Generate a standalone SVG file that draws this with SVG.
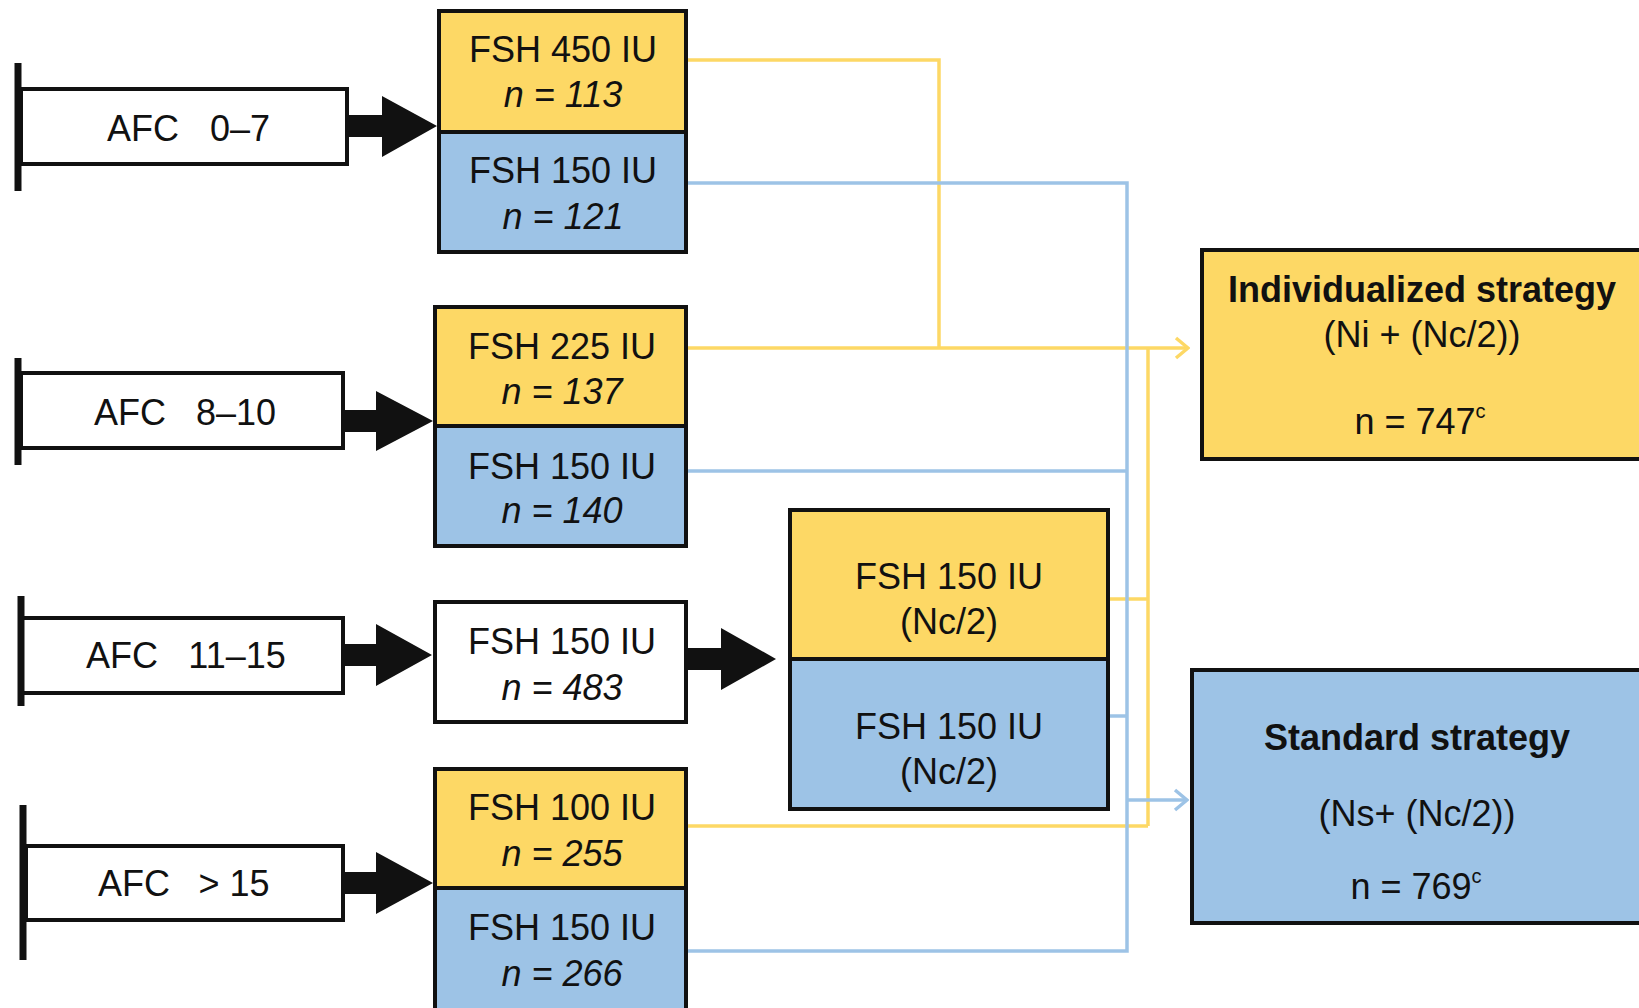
<svg xmlns="http://www.w3.org/2000/svg" width="1639" height="1008" viewBox="0 0 1639 1008">
<defs>
<style>
.t{font-family:"Liberation Sans",Arial,sans-serif;font-size:36px;fill:#111;text-anchor:middle}
.i{font-style:italic}
.b{font-weight:bold}
.box{stroke:#111;stroke-width:4}
.y{fill:#FDD865}
.bl{fill:#9DC3E6}
.w{fill:#fff}
.bar{stroke:#111;stroke-width:7}
.fat{fill:#111}
.ly{fill:none;stroke:#FDD865;stroke-width:3.5}
.lb{fill:none;stroke:#9DC3E6;stroke-width:3.5}
</style>
<marker id="ay" markerWidth="16" markerHeight="24" refX="14" refY="12" orient="auto" markerUnits="userSpaceOnUse"><path d="M2,2 L14,12 L2,22" fill="none" stroke="#FDD865" stroke-width="3.5"/></marker>
<marker id="ab" markerWidth="16" markerHeight="24" refX="14" refY="12" orient="auto" markerUnits="userSpaceOnUse"><path d="M2,2 L14,12 L2,22" fill="none" stroke="#9DC3E6" stroke-width="3.5"/></marker>
</defs>
<rect width="1639" height="1008" fill="#fff"/>

<g id="connectors">
<polyline class="ly" points="686,60 939,60 939,348"/>
<polyline class="ly" points="686,348 1188,348" marker-end="url(#ay)"/>
<polyline class="ly" points="1148,348 1148,826"/>
<polyline class="ly" points="1108,599 1148,599"/>
<polyline class="ly" points="686,826 1148,826"/>
<polyline class="lb" points="686,183 1127,183 1127,951 686,951"/>
<polyline class="lb" points="686,471 1127,471"/>
<polyline class="lb" points="1108,716 1127,716"/>
<polyline class="lb" points="1127,800 1187,800" marker-end="url(#ab)"/>
<polygon class="fat" points="345,115 382,115 382,96 437,126 382,157 382,137 345,137"/>
<polygon class="fat" points="341,410 376,410 376,391 433,421 376,451 376,432 341,432"/>
<polygon class="fat" points="341,644 376,644 376,624 432,655 376,686 376,666 341,666"/>
<polygon class="fat" points="686,648 721,648 721,628 776,659 721,690 721,670 686,670"/>
<polygon class="fat" points="341,872 376,872 376,852 433,883 376,914 376,894 341,894"/>
</g>

<g id="afc1">
<rect class="box w" x="21" y="89" width="326" height="75"/>
<line class="bar" x1="18" y1="63" x2="18" y2="191"/>
<text class="t" x="178" y="141"><tspan x="143">AFC</tspan><tspan x="240">0–7</tspan></text>
</g>
<g id="afc2">
<rect class="box w" x="21" y="373" width="322" height="75"/>
<line class="bar" x1="18" y1="358" x2="18" y2="465"/>
<text class="t" x="178" y="425"><tspan x="130">AFC</tspan><tspan x="236">8–10</tspan></text>
</g>
<g id="afc3">
<rect class="box w" x="21" y="618" width="322" height="75"/>
<line class="bar" x1="21" y1="596" x2="21" y2="706"/>
<text class="t" x="178" y="668"><tspan x="122">AFC</tspan><tspan x="237">11–15</tspan></text>
</g>
<g id="afc4">
<rect class="box w" x="26" y="846" width="317" height="74"/>
<line class="bar" x1="23" y1="805" x2="23" y2="960"/>
<text class="t" x="178" y="896"><tspan x="134">AFC</tspan><tspan x="234">&gt; 15</tspan></text>
</g>

<g id="fsh450">
<rect class="box y" x="439" y="11" width="247" height="121"/>
<text class="t" x="563" y="62">FSH 450 IU</text>
<text class="t i" x="563" y="107">n = 113</text>
</g>
<g id="fsh150a">
<rect class="box bl" x="439" y="132" width="247" height="120"/>
<text class="t" x="563" y="183">FSH 150 IU</text>
<text class="t i" x="563" y="229">n = 121</text>
</g>
<g id="fsh225">
<rect class="box y" x="435" y="307" width="251" height="119"/>
<text class="t" x="562" y="359">FSH 225 IU</text>
<text class="t i" x="562" y="404">n = 137</text>
</g>
<g id="fsh150b">
<rect class="box bl" x="435" y="426" width="251" height="120"/>
<text class="t" x="562" y="479">FSH 150 IU</text>
<text class="t i" x="562" y="523">n = 140</text>
</g>
<g id="fsh150c">
<rect class="box w" x="435" y="602" width="251" height="120"/>
<text class="t" x="562" y="654">FSH 150 IU</text>
<text class="t i" x="562" y="700">n = 483</text>
</g>
<g id="nc-ind">
<rect class="box y" x="790" y="510" width="318" height="149"/>
<text class="t" x="949" y="589">FSH 150 IU</text>
<text class="t" x="949" y="634">(Nc/2)</text>
</g>
<g id="nc-std">
<rect class="box bl" x="790" y="659" width="318" height="150"/>
<text class="t" x="949" y="739">FSH 150 IU</text>
<text class="t" x="949" y="784">(Nc/2)</text>
</g>
<g id="fsh100">
<rect class="box y" x="435" y="769" width="251" height="119"/>
<text class="t" x="562" y="820">FSH 100 IU</text>
<text class="t i" x="562" y="866">n = 255</text>
</g>
<g id="fsh150d">
<rect class="box bl" x="435" y="888" width="251" height="122"/>
<text class="t" x="562" y="940">FSH 150 IU</text>
<text class="t i" x="562" y="986">n = 266</text>
</g>

<g id="individualized">
<rect class="box y" x="1202" y="250" width="445" height="209"/>
<text class="t b" x="1422" y="302">Individualized strategy</text>
<text class="t" x="1422" y="347">(Ni + (Nc/2))</text>
<text class="t" x="1420" y="434">n = 747<tspan font-size="20" dy="-16">c</tspan></text>
</g>
<g id="standard">
<rect class="box bl" x="1192" y="670" width="455" height="253"/>
<text class="t b" x="1417" y="750">Standard strategy</text>
<text class="t" x="1417" y="826">(Ns+ (Nc/2))</text>
<text class="t" x="1416" y="899">n = 769<tspan font-size="20" dy="-16">c</tspan></text>
</g>
</svg>
